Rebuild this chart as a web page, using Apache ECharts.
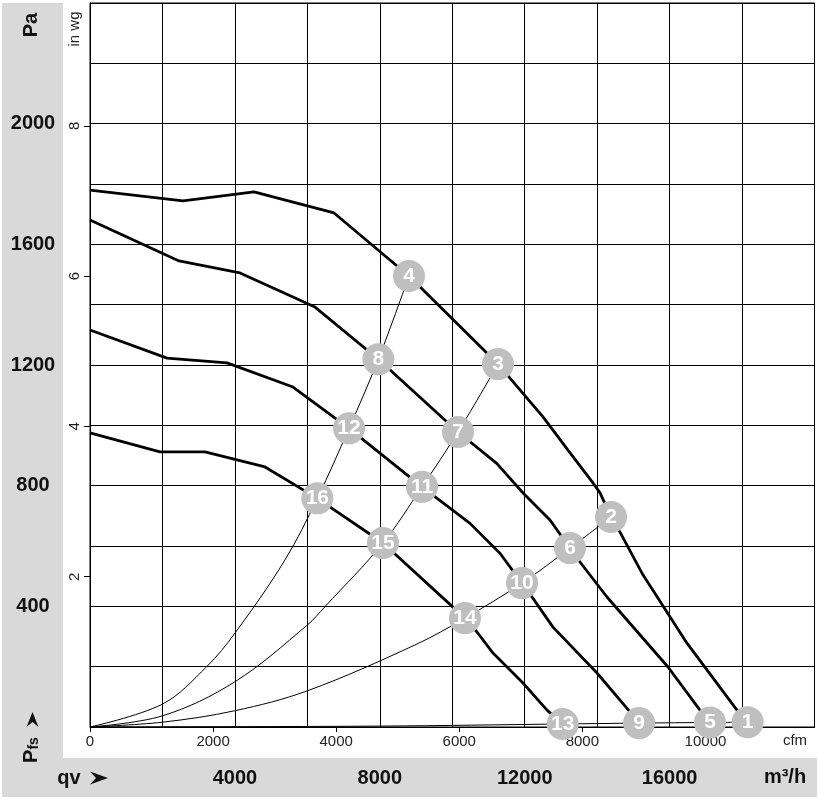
<!DOCTYPE html>
<html>
<head>
<meta charset="utf-8">
<script src="https://cdn.jsdelivr.net/npm/echarts@6/dist/echarts.min.js"></script>
<style>
html,body{margin:0;padding:0;background:#fff;}
#chart{width:819px;height:802px;}
</style>
</head>
<body>
<div id="chart"></div>
<script>
// ---- tick labels ----
const paTicks = [400, 800, 1200, 1600, 2000];
const m3hTicks = [4000, 8000, 12000, 16000];
const cfmTicks = [0, 2000, 4000, 6000, 8000, 10000];
const inwgTicks = [2, 4, 6, 8];
const PA_PER_INWG = 249.089;
const M3H_PER_CFM = 1.699011;

// ---- fan curves (q in m3/h, p in Pa) ----
const fan1Q = [0, 2567, 4527, 6736, 8806, 11263, 12505, 13195, 13885, 14080, 14383, 14631, 15238, 16480, 17860, 18155];
const fan1P = [1780, 1744, 1774, 1704, 1495, 1203, 1028, 918, 809, 776, 696, 646, 510, 278, 56, 16];
const fan2Q = [0, 2457, 4141, 6211, 7960, 10159, 11227, 11961, 12698, 13250, 13526, 14272, 15956, 16839, 17115];
const fan2P = [1681, 1545, 1505, 1392, 1219, 978, 874, 775, 686, 593, 547, 431, 199, 56, 15];
const fan3Q = [0, 2126, 3782, 5604, 7150, 9165, 10490, 11318, 11925, 12202, 12781, 13996, 14907, 15157];
const fan3P = [1316, 1223, 1207, 1127, 990, 796, 675, 576, 477, 431, 331, 179, 50, 13];
const fan4Q = [0, 1932, 3175, 4831, 6275, 8088, 10352, 10683, 11125, 11953, 12616, 13049];
const fan4P = [975, 912, 912, 862, 758, 610, 361, 315, 245, 146, 56, 10];

// ---- system curves ----
const sysAQ = [0, 2000, 3221, 4000, 5383, 6275, 7150, 7960, 8806];
const sysAP = [0, 76, 200, 311, 554, 758, 990, 1219, 1495];
const sysBQ = [0, 2000, 4000, 6000, 6487, 8088, 9165, 10159, 11263];
const sysBP = [0, 37, 150, 338, 399, 610, 796, 978, 1203];
const sysCQ = [0, 2000, 4000, 6000, 8972, 10352, 11925, 13250, 14383];
const sysCP = [0, 16, 54, 120, 272, 361, 477, 593, 696];
const sysDQ = [0, 8000, 13049, 15157, 17115, 18155];
const sysDP = [0, 3, 10, 13, 15, 16];

// ---- operating point markers ----
const markerIds = [1, 2, 3, 4, 5, 6, 7, 8, 9, 10, 11, 12, 13, 14, 15, 16];
const markerQ = [18155, 14383, 11263, 8806, 17115, 13250, 10159, 7960, 15157, 11925, 9165, 7150, 13049, 10352, 8088, 6275];
const markerP = [16, 696, 1203, 1495, 15, 593, 978, 1219, 13, 477, 796, 990, 10, 361, 610, 758];

const FONT = 'Liberation Sans, Arial, sans-serif';
const zip = (a, b) => a.map((v, i) => [v, b[i]]);

function fanSeries(q, p) {
  return { type: 'line', data: zip(q, p), symbol: 'none', smooth: false, z: 3,
    lineStyle: { color: '#000', width: 2.8 }, silent: true };
}
function sysSeries(q, p) {
  return { type: 'line', data: zip(q, p), symbol: 'none', smooth: 0.35, z: 2,
    lineStyle: { color: '#000', width: 1 }, silent: true };
}

const chart = echarts.init(document.getElementById('chart'), null, { renderer: 'canvas' });
const option = {
  animation: false,
  backgroundColor: '#fff',
  textStyle: { fontFamily: FONT },
  grid: { left: 90, top: 3, width: 724.5, height: 724, show: true, borderColor: '#000', borderWidth: 1, backgroundColor: '#fff', containLabel: false },
  xAxis: [
    { type: 'value', min: 0, max: 20000, interval: 2000, position: 'bottom',
      axisLine: { show: true, lineStyle: { color: '#000', width: 1 } },
      axisTick: { show: false },
      splitLine: { show: true, lineStyle: { color: '#000', width: 1 } },
      axisLabel: { margin: 41, fontSize: 20, fontWeight: 'bold', color: '#111', fontFamily: FONT,
        formatter: v => m3hTicks.includes(v) ? String(v) : '' } },
    { type: 'value', min: 0, max: 20000 / M3H_PER_CFM, interval: 2000, position: 'bottom',
      axisLine: { show: false },
      axisTick: { show: true, length: 5, customValues: cfmTicks, lineStyle: { color: '#000', width: 1 } },
      splitLine: { show: false },
      axisLabel: { margin: 7, fontSize: 15, color: '#222', fontFamily: FONT, customValues: cfmTicks,
        formatter: v => cfmTicks.includes(v) ? String(v) : '' } }
  ],
  yAxis: [
    { type: 'value', min: 0, max: 2400, interval: 200, position: 'left',
      axisLine: { show: true, lineStyle: { color: '#000', width: 1 } },
      axisTick: { show: false },
      splitLine: { show: true, lineStyle: { color: '#000', width: 1 } },
      axisLabel: { margin: 57, align: 'center', verticalAlign: 'middle', fontSize: 20, fontWeight: 'bold', color: '#111', fontFamily: FONT,
        formatter: v => paTicks.includes(v) ? String(v) : '' } },
    { type: 'value', min: 0, max: 2400 / PA_PER_INWG, interval: 2, position: 'left',
      axisLine: { show: false },
      axisTick: { show: true, length: 6, customValues: inwgTicks, lineStyle: { color: '#000', width: 1 } },
      splitLine: { show: false },
      axisLabel: { rotate: 90, margin: 15, align: 'center', verticalAlign: 'middle', fontSize: 15, color: '#222', fontFamily: FONT,
        customValues: inwgTicks, formatter: v => inwgTicks.includes(v) ? String(v) : '' } }
  ],
  series: [
    sysSeries(sysAQ, sysAP), sysSeries(sysBQ, sysBP), sysSeries(sysCQ, sysCP), sysSeries(sysDQ, sysDP),
    fanSeries(fan1Q, fan1P), fanSeries(fan2Q, fan2P), fanSeries(fan3Q, fan3P), fanSeries(fan4Q, fan4P),
    { type: 'scatter', z: 5, symbol: 'circle', symbolSize: 32, silent: true,
      itemStyle: { color: '#bfbfbf', opacity: 1 },
      data: markerIds.map((id, i) => [markerQ[i], markerP[i], id]),
      label: { show: true, position: 'inside', formatter: p => String(p.value[2]),
        color: '#fff', fontSize: 21, fontWeight: 'bold', fontFamily: FONT } }
  ],
  graphic: [
    { type: 'rect', z: -10, shape: { x: 2, y: 3, width: 61, height: 794 }, style: { fill: '#d9d9d9' } },
    { type: 'rect', z: -10, shape: { x: 2, y: 758, width: 815, height: 39 }, style: { fill: '#d9d9d9' } },
    { type: 'text', x: 31, y: 25, rotation: Math.PI / 2,
      style: { text: 'Pa', font: 'bold 20px ' + FONT, fill: '#111', align: 'center', verticalAlign: 'middle', textAlign: 'center', textVerticalAlign: 'middle' } },
    { type: 'text', x: 74.5, y: 29, rotation: Math.PI / 2,
      style: { text: 'in wg', font: '15px ' + FONT, fill: '#222', align: 'center', verticalAlign: 'middle', textAlign: 'center', textVerticalAlign: 'middle' } },
    { type: 'text', x: 31, y: 750, rotation: Math.PI / 2,
      style: { text: '{p|P}{s|fs}', fill: '#111', align: 'center', verticalAlign: 'middle', textAlign: 'center', textVerticalAlign: 'middle',
        rich: { p: { fontSize: 20, fontWeight: 'bold', fontFamily: FONT, fill: '#111', lineHeight: 20, verticalAlign: 'bottom' },
                s: { fontSize: 14, fontWeight: 'bold', fontFamily: FONT, fill: '#111', lineHeight: 14, verticalAlign: 'bottom' } } } },
    { type: 'polygon', shape: { points: [[32.5, 712], [26.5, 727], [32.5, 722], [38.5, 727]] }, style: { fill: '#111' } },
    { type: 'text', x: 69, y: 778,
      style: { text: 'qv', font: 'bold 20px ' + FONT, fill: '#111', align: 'center', verticalAlign: 'middle', textAlign: 'center', textVerticalAlign: 'middle' } },
    { type: 'polygon', shape: { points: [[108, 778], [90, 771.5], [96, 778], [90, 784.5]] }, style: { fill: '#111' } },
    { type: 'text', x: 785, y: 777,
      style: { text: 'm³/h', font: 'bold 20px ' + FONT, fill: '#111', align: 'center', verticalAlign: 'middle', textAlign: 'center', textVerticalAlign: 'middle' } },
    { type: 'text', x: 795, y: 741,
      style: { text: 'cfm', font: '15px ' + FONT, fill: '#222', align: 'center', verticalAlign: 'middle', textAlign: 'center', textVerticalAlign: 'middle' } }
  ]
};
chart.setOption(option);
</script>
</body>
</html>
